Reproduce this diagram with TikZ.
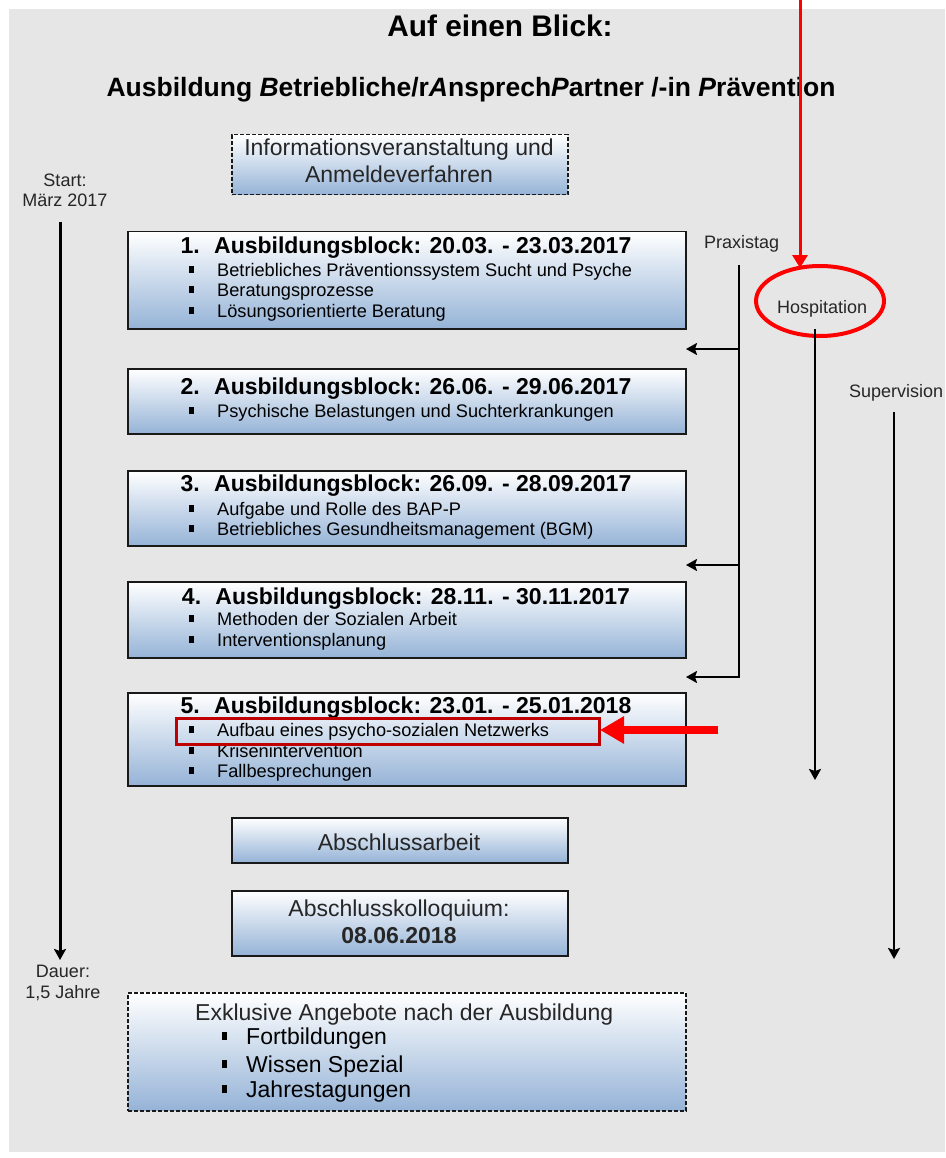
\documentclass[tikz,border=0pt]{standalone}
\usepackage{fontspec}
\setmainfont{Liberation Sans}
\usetikzlibrary{arrows.meta,shapes.geometric}
\definecolor{bgray}{RGB}{230,230,230}
\definecolor{boxblue}{RGB}{149,179,215}
\definecolor{darkred}{RGB}{192,0,0}
\definecolor{txtgray}{RGB}{38,38,38}
\newcommand{\smbul}{\rule[3pt]{4.5pt}{7pt}}
\newcommand{\bgbul}{\rule[4pt]{5pt}{8pt}}
\begin{document}
\begin{tikzpicture}[x=1pt,y=-1pt,
  blockbox/.style={draw=black!90, line width=1.5pt, top color=white, bottom color=boxblue, anchor=north west, inner sep=0pt},
  dashbox/.style={blockbox, dash pattern=on 4pt off 2pt},
  btitle/.style={font=\bfseries\fontsize{23}{27}\selectfont, inner sep=0pt, anchor=base, text=black},
  bitem/.style={font=\fontsize{18.2}{21}\selectfont, inner sep=0pt, anchor=base west, text=black},
  bigtxt/.style={font=\fontsize{23}{27}\selectfont, inner sep=0pt, anchor=base, text=txtgray},
  bigitem/.style={font=\fontsize{23}{27}\selectfont, inner sep=0pt, anchor=base west, text=black},
  sidelbl/.style={font=\fontsize{18}{21}\selectfont, inner sep=0pt, anchor=base, text=txtgray},
  blkarrow/.style={line width=2.5pt, -{Stealth[length=11pt,width=12pt,inset=2pt]}},
  blkline/.style={line width=2.5pt},
  redarrow/.style={red, line width=3pt, -{Triangle[length=13pt,width=15pt]}},
  bigredarrow/.style={red, line width=8pt, -{Triangle[length=24pt,width=26pt]}},
]
\useasboundingbox (0,0) rectangle (945,1158);
\fill[bgray] (9,9) rectangle (945,1152);

% titles
\node[font=\bfseries\fontsize{29.8}{34}\selectfont, inner sep=0pt, anchor=base] (t1) at (500,37) {Auf einen Blick:};
\node[font=\bfseries\fontsize{26.5}{30}\selectfont, inner sep=0pt, anchor=base] (t2) at (471,97)
  {Ausbildung \textit{B}etriebliche/r\textit{A}nsprech\textit{P}artner /-in \textit{P}rävention};

% info box
\node[dashbox, minimum width=336pt, minimum height=60pt] (info) at (231,134) {};
\node[bigtxt] (info1) at (399,156) {Informationsveranstaltung und};
\node[bigtxt] (info2) at (399,183) {Anmeldeverfahren};

% side labels
\node[sidelbl] (start1) at (65,187) {Start:};
\node[sidelbl] (start2) at (65,207) {März 2017};
\node[sidelbl] (dauer1) at (63,977) {Dauer:};
\node[sidelbl] (dauer2) at (63,998) {1,5 Jahre};
\node[sidelbl, anchor=base west] (praxis) at (704,248) {Praxistag};
\node[sidelbl, anchor=base west] (hosp) at (777,313) {Hospitation};
\node[sidelbl, anchor=base west] (superv) at (849,397) {Supervision};

% block 1
\node[blockbox, minimum width=558pt, minimum height=97pt] (b1) at (127,231) {};
\node[btitle] (b1t) at (406,253) {1.\hspace{0.25em} Ausbildungsblock: 20.03. - 23.03.2017};
\node[bitem] (b1a) at (189,276) {\makebox[28pt][l]{\smbul}Betriebliches Präventionssystem Sucht und Psyche};
\node[bitem] (b1b) at (189,296) {\makebox[28pt][l]{\smbul}Beratungsprozesse};
\node[bitem] (b1c) at (189,317) {\makebox[28pt][l]{\smbul}Lösungsorientierte Beratung};

% block 2
\node[blockbox, minimum width=558pt, minimum height=65pt] (b2) at (127,368) {};
\node[btitle] (b2t) at (406,394) {2.\hspace{0.25em} Ausbildungsblock: 26.06. - 29.06.2017};
\node[bitem] (b2a) at (189,417) {\makebox[28pt][l]{\smbul}Psychische Belastungen und Suchterkrankungen};

% block 3
\node[blockbox, minimum width=558pt, minimum height=75pt] (b3) at (127,470) {};
\node[btitle] (b3t) at (406,491) {3.\hspace{0.25em} Ausbildungsblock: 26.09. - 28.09.2017};
\node[bitem] (b3a) at (189,515) {\makebox[28pt][l]{\smbul}Aufgabe und Rolle des BAP-P};
\node[bitem] (b3b) at (189,535) {\makebox[28pt][l]{\smbul}Betriebliches Gesundheitsmanagement (BGM)};

% block 4
\node[blockbox, minimum width=558pt, minimum height=76pt] (b4) at (127,581) {};
\node[btitle] (b4t) at (406,604) {4.\hspace{0.25em} Ausbildungsblock: 28.11. - 30.11.2017};
\node[bitem] (b4a) at (189,625) {\makebox[28pt][l]{\smbul}Methoden der Sozialen Arbeit};
\node[bitem] (b4b) at (189,646) {\makebox[28pt][l]{\smbul}Interventionsplanung};

% block 5
\node[blockbox, minimum width=558pt, minimum height=93pt] (b5) at (127,692) {};
\node[btitle] (b5t) at (406,713) {5.\hspace{0.25em} Ausbildungsblock: 23.01. - 25.01.2018};
\node[bitem] (b5a) at (189,736) {\makebox[28pt][l]{\smbul}Aufbau eines psycho-sozialen Netzwerks};
\node[bitem] (b5b) at (189,757) {\makebox[28pt][l]{\smbul}Krisenintervention};
\node[bitem] (b5c) at (189,777) {\makebox[28pt][l]{\smbul}Fallbesprechungen};
\node[draw=darkred, line width=3pt, anchor=north west, inner sep=0pt, minimum width=423pt, minimum height=26pt] (hl) at (175,717) {};

% final boxes
\node[blockbox, minimum width=336pt, minimum height=45pt] (arb) at (231,817) {};
\node[bigtxt] (arbt) at (399,850) {Abschlussarbeit};
\node[blockbox, minimum width=336pt, minimum height=65pt] (kol) at (231,890) {};
\node[bigtxt] (kol1) at (399,916) {Abschlusskolloquium:};
\node[bigtxt, font=\bfseries\fontsize{23}{27}\selectfont] (kol2) at (399,943) {08.06.2018};

% exklusive
\node[dashbox, minimum width=558pt, minimum height=118pt] (exk) at (127,992) {};
\node[bigtxt, anchor=base west] (exkt) at (195,1020) {Exklusive Angebote nach der Ausbildung};
\node[bigitem] (exka) at (222,1044) {\makebox[24pt][l]{\bgbul}Fortbildungen};
\node[bigitem] (exkb) at (222,1072) {\makebox[24pt][l]{\bgbul}Wissen Spezial};
\node[bigitem] (exkc) at (222,1097) {\makebox[24pt][l]{\bgbul}Jahrestagungen};

% timeline left
\coordinate (ls) at (60,222);
\coordinate (le) at (60,960);
\draw[blkarrow, line width=3pt] (ls) -- (le);

% Praxistag
\coordinate (p0) at (739,265);
\coordinate (pa1) at (739,349);
\coordinate (pa2) at (739,565);
\coordinate (pt1) at (686,349);
\coordinate (pt2) at (686,565);
\coordinate (pt3) at (686,677);
\draw[blkline] (p0) -- (pa2);
\draw[blkarrow] (p0) |- (pt3);
\draw[blkarrow] (pa1) -- (pt1);
\draw[blkarrow] (pa2) -- (pt2);

% Hospitation
\node[draw=red, line width=4pt, ellipse, inner sep=0pt, minimum width=128pt, minimum height=70pt] (hospell) at (820,301) {};
\coordinate (h0) at (815,329);
\coordinate (h1) at (815,780);
\draw[blkarrow] (h0) -- (h1);

% Supervision
\coordinate (s0) at (894,412);
\coordinate (s1) at (894,959);
\draw[blkarrow] (s0) -- (s1);

% red arrows
\coordinate (rtop) at (800,-2);
\coordinate (rtip) at (800,268);
\draw[redarrow] (rtop) -- (rtip);
\coordinate (rs) at (718,730);
\coordinate (rt) at (600,730);
\draw[bigredarrow] (rs) -- (rt);
\end{tikzpicture}
\end{document}
